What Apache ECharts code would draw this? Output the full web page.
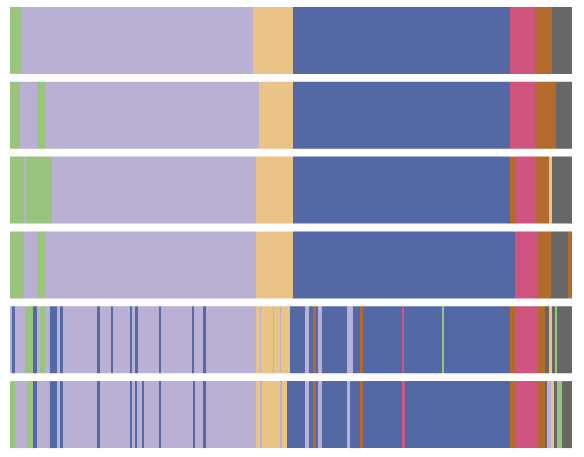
<!DOCTYPE html>
<html>
<head>
<meta charset="utf-8">
<script src="https://cdn.jsdelivr.net/npm/echarts@6/dist/echarts.min.js"></script>
<style>
html, body { margin: 0; padding: 0; background: #fff; }
#main { width: 584px; height: 457px; }
</style>
</head>
<body>
<div id="main"></div>
<script>
// sequences: [state, duration]
var states = ['green', 'lavender', 'tan', 'blue', 'pink', 'brown', 'gray'];
var stateColors = {
	green : '#9ac47d',
	lavender : '#b9b0d3',
	tan : '#eac386',
	blue : '#5568a6',
	pink : '#cf5580',
	brown : '#b26b2c',
	gray : '#676767'
};
var rows = ['1', '2', '3', '4', '5', '6'];

var seq1 = [['green', 11], ['lavender', 232], ['tan', 40], ['blue', 217], ['pink', 25], ['brown', 17], ['gray', 20]];
var seq2 = [['green', 10], ['lavender', 17], ['green', 8], ['lavender', 214], ['tan', 34], ['blue', 217], ['pink', 25], ['brown', 21], ['gray', 16]];
var seq3 = [['green', 14], ['lavender', 2], ['green', 26], ['lavender', 204], ['tan', 37], ['blue', 217], ['brown', 6], ['pink', 20], ['brown', 13], ['tan', 3], ['gray', 20]];
var seq4 = [['green', 14], ['lavender', 13], ['green', 8], ['lavender', 211], ['tan', 37], ['blue', 222], ['pink', 22], ['brown', 14], ['gray', 17], ['brown', 4]];
var seq5 = [['lavender', 2], ['blue', 3], ['lavender', 10], ['green', 8], ['blue', 4], ['lavender', 3], ['green', 5], ['lavender', 5],
	['blue', 7], ['lavender', 3], ['blue', 3], ['lavender', 34], ['blue', 3], ['lavender', 11], ['blue', 2], ['lavender', 17],
	['blue', 2], ['lavender', 3], ['blue', 3], ['lavender', 21], ['blue', 2], ['lavender', 31], ['blue', 2], ['lavender', 9],
	['blue', 3], ['lavender', 50], ['tan', 4], ['lavender', 1], ['tan', 12], ['lavender', 1], ['tan', 6], ['lavender', 1], ['tan', 9],
	['blue', 15], ['lavender', 4], ['blue', 4], ['brown', 3], ['blue', 2], ['lavender', 4], ['blue', 25], ['lavender', 6], ['blue', 7],
	['brown', 3], ['blue', 39], ['pink', 2], ['blue', 38], ['green', 2], ['blue', 66], ['brown', 5], ['pink', 23], ['brown', 7],
	['gray', 4], ['tan', 3], ['gray', 3], ['green', 2], ['gray', 15]];
var seq6 = [['green', 5], ['lavender', 12], ['green', 6], ['blue', 4], ['lavender', 13], ['blue', 7], ['lavender', 3], ['blue', 3],
	['lavender', 34], ['blue', 3], ['lavender', 30], ['blue', 2], ['lavender', 3], ['blue', 2], ['lavender', 5], ['blue', 2],
	['lavender', 15], ['blue', 2], ['lavender', 32], ['blue', 2], ['lavender', 8], ['blue', 3], ['lavender', 50],
	['tan', 4], ['lavender', 2], ['tan', 18], ['lavender', 2], ['tan', 5],
	['blue', 18], ['lavender', 4], ['blue', 4], ['brown', 3], ['blue', 2], ['lavender', 4], ['blue', 25], ['lavender', 3], ['blue', 10],
	['brown', 3], ['blue', 39], ['pink', 3], ['blue', 105], ['brown', 6], ['pink', 21], ['brown', 8], ['gray', 2], ['lavender', 4],
	['tan', 3], ['gray', 3], ['green', 5], ['gray', 10]];

var sequences = [seq1, seq2, seq3, seq4, seq5, seq6];

var maxLen = 0;
for (var i = 0; i < sequences.length; i++) {
	if (sequences[i].length > maxLen) {
		maxLen = sequences[i].length;
	}
}

var series = [];
for (var k = 0; k < maxLen; k++) {
	var data = [];
	for (var r = 0; r < sequences.length; r++) {
		var seg = sequences[r][k];
		if (seg) {
			data.push({
				value : seg[1],
				itemStyle : { color : stateColors[seg[0]] }
			});
		} else {
			data.push('-');
		}
	}
	series.push({
		type : 'bar',
		stack : 'seq',
		barWidth : 67,
		data : data
	});
}

var myChart = echarts.init(document.getElementById('main'));
var option = {
	animation : false,
	grid : {
		left : 10,
		right : 12,
		top : 3,
		bottom : 5
	},
	xAxis : {
		type : 'value',
		min : 0,
		max : 562,
		show : false
	},
	yAxis : {
		type : 'category',
		inverse : true,
		data : rows,
		show : false
	},
	series : series
};
myChart.setOption(option);
</script>
</body>
</html>
